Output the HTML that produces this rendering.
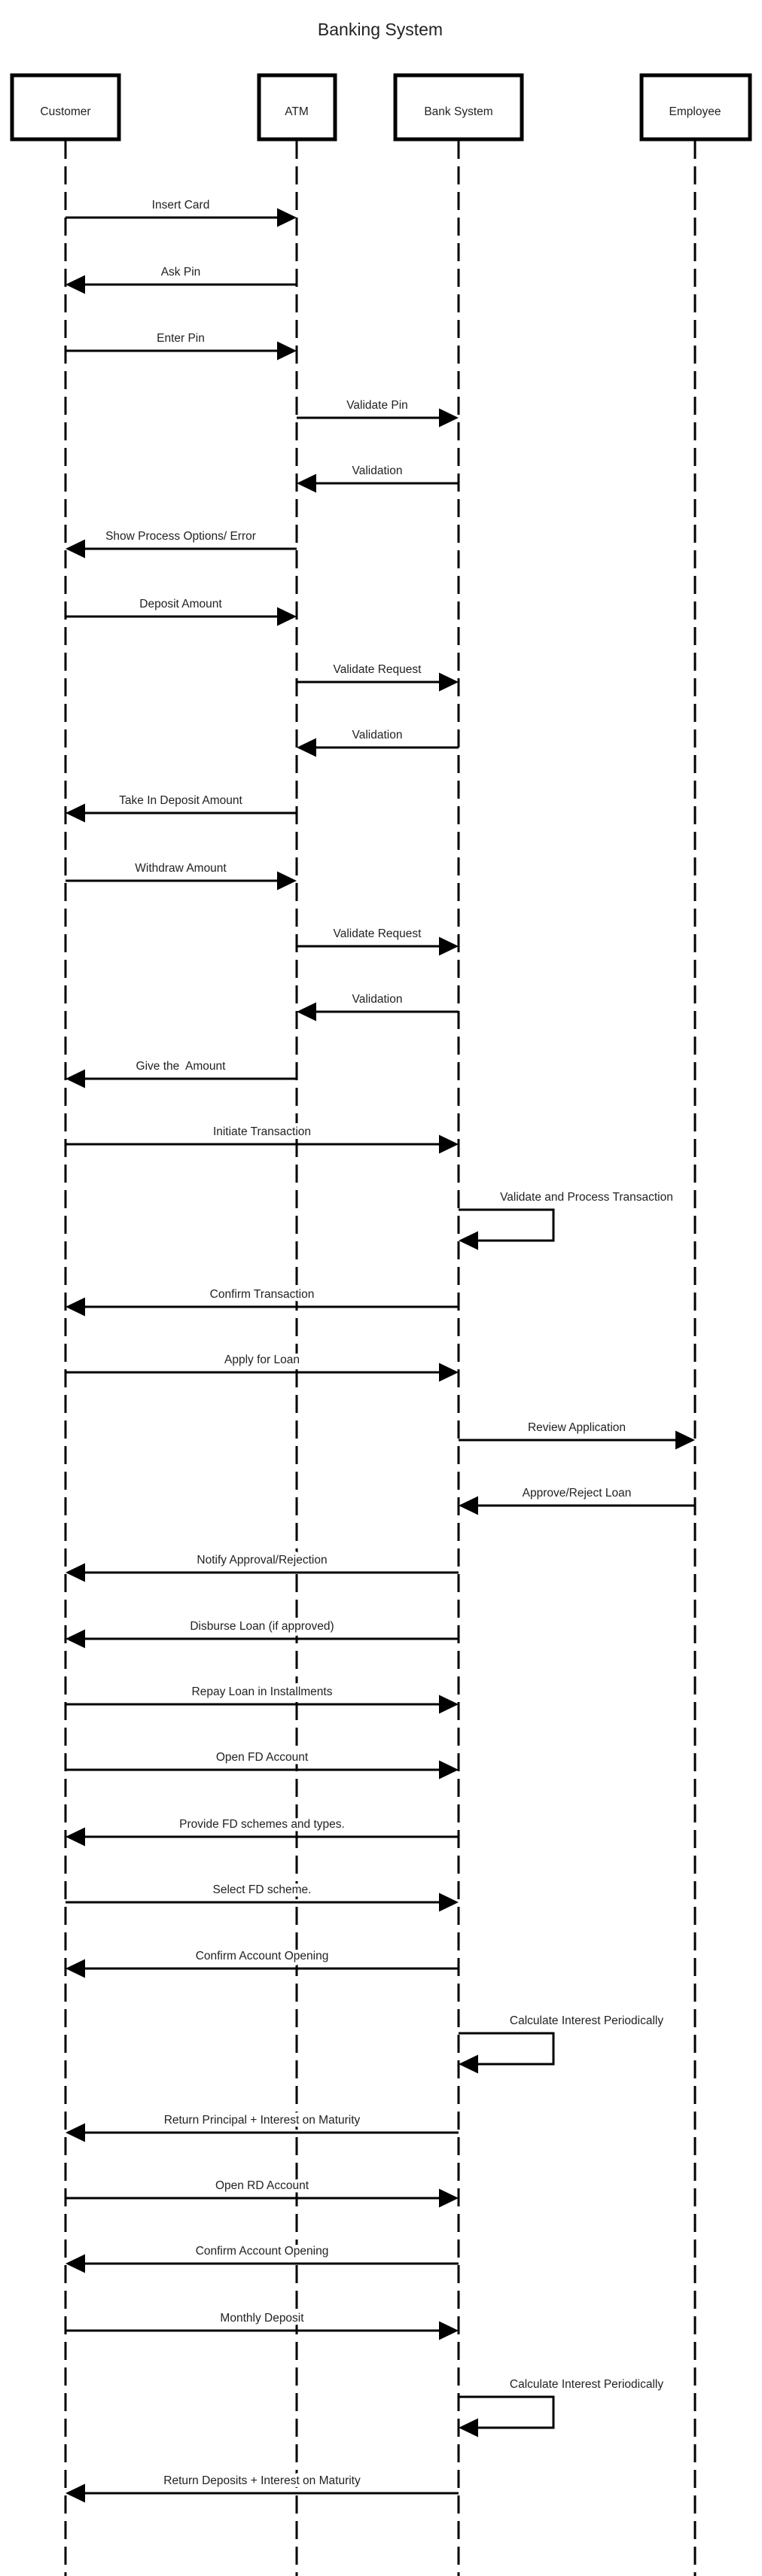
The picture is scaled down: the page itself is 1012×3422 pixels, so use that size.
<!DOCTYPE html>
<html><head><meta charset="utf-8"><style>
html,body{margin:0;padding:0;background:#fff}
svg{display:block}
text{font-family:"Liberation Sans",sans-serif;font-size:15.5px;fill:#222}
.lbl text{stroke:#fff;stroke-width:9px;paint-order:stroke;stroke-linejoin:round}
</style></head><body>
<svg width="1012" height="3422" viewBox="0 0 1012 3422" xmlns="http://www.w3.org/2000/svg">
<text x="505" y="47" text-anchor="middle" style="font-size:23px">Banking System</text>
<g stroke="#000" stroke-width="3" stroke-dasharray="24 10" fill="none">
<line x1="87" y1="187" x2="87" y2="3422"/>
<line x1="394" y1="187" x2="394" y2="3422"/>
<line x1="609" y1="187" x2="609" y2="3422"/>
<line x1="923" y1="187" x2="923" y2="3422"/>
</g>
<g stroke="#000" stroke-width="5" fill="#fff">
<rect x="16" y="100" width="142" height="85"/>
<rect x="344" y="100" width="101" height="85"/>
<rect x="525" y="100" width="168" height="85"/>
<rect x="852" y="100" width="144" height="85"/>
</g>
<g text-anchor="middle">
<text x="87" y="153">Customer</text>
<text x="394" y="153">ATM</text>
<text x="609" y="153">Bank System</text>
<text x="923" y="153">Employee</text>
</g>
<g class="lbl" text-anchor="middle">
<text x="240" y="277">Insert Card</text>
<text x="240" y="366">Ask Pin</text>
<text x="240" y="454">Enter Pin</text>
<text x="501" y="543">Validate Pin</text>
<text x="501" y="630">Validation</text>
<text x="240" y="717">Show Process Options/ Error</text>
<text x="240" y="807">Deposit Amount</text>
<text x="501" y="894">Validate Request</text>
<text x="501" y="981">Validation</text>
<text x="240" y="1068">Take In Deposit Amount</text>
<text x="240" y="1158">Withdraw Amount</text>
<text x="501" y="1245">Validate Request</text>
<text x="501" y="1332">Validation</text>
<text x="240" y="1421" xml:space="preserve">Give the  Amount</text>
<text x="348" y="1508">Initiate Transaction</text>
<text x="779" y="1595">Validate and Process Transaction</text>
<text x="348" y="1724">Confirm Transaction</text>
<text x="348" y="1811">Apply for Loan</text>
<text x="766" y="1901">Review Application</text>
<text x="766" y="1988">Approve/Reject Loan</text>
<text x="348" y="2077">Notify Approval/Rejection</text>
<text x="348" y="2165">Disburse Loan (if approved)</text>
<text x="348" y="2252">Repay Loan in Installments</text>
<text x="348" y="2339">Open FD Account</text>
<text x="348" y="2428">Provide FD schemes and types.</text>
<text x="348" y="2515">Select FD scheme.</text>
<text x="348" y="2603">Confirm Account Opening</text>
<text x="779" y="2689">Calculate Interest Periodically</text>
<text x="348" y="2821">Return Principal + Interest on Maturity</text>
<text x="348" y="2908">Open RD Account</text>
<text x="348" y="2995">Confirm Account Opening</text>
<text x="348" y="3084">Monthly Deposit</text>
<text x="779" y="3172">Calculate Interest Periodically</text>
<text x="348" y="3300">Return Deposits + Interest on Maturity</text>
</g>
<g stroke="#000" stroke-width="3" fill="none">
<line x1="87" y1="289" x2="372" y2="289"/>
<line x1="394" y1="378" x2="109" y2="378"/>
<line x1="87" y1="466" x2="372" y2="466"/>
<line x1="394" y1="555" x2="587" y2="555"/>
<line x1="609" y1="642" x2="416" y2="642"/>
<line x1="394" y1="729" x2="109" y2="729"/>
<line x1="87" y1="819" x2="372" y2="819"/>
<line x1="394" y1="906" x2="587" y2="906"/>
<line x1="609" y1="993" x2="416" y2="993"/>
<line x1="394" y1="1080" x2="109" y2="1080"/>
<line x1="87" y1="1170" x2="372" y2="1170"/>
<line x1="394" y1="1257" x2="587" y2="1257"/>
<line x1="609" y1="1344" x2="416" y2="1344"/>
<line x1="394" y1="1433" x2="109" y2="1433"/>
<line x1="87" y1="1520" x2="587" y2="1520"/>
<polyline points="609,1607 735,1607 735,1648 631,1648"/>
<line x1="609" y1="1736" x2="109" y2="1736"/>
<line x1="87" y1="1823" x2="587" y2="1823"/>
<line x1="609" y1="1913" x2="901" y2="1913"/>
<line x1="923" y1="2000" x2="631" y2="2000"/>
<line x1="609" y1="2089" x2="109" y2="2089"/>
<line x1="609" y1="2177" x2="109" y2="2177"/>
<line x1="87" y1="2264" x2="587" y2="2264"/>
<line x1="87" y1="2351" x2="587" y2="2351"/>
<line x1="609" y1="2440" x2="109" y2="2440"/>
<line x1="87" y1="2527" x2="587" y2="2527"/>
<line x1="609" y1="2615" x2="109" y2="2615"/>
<polyline points="609,2701 735,2701 735,2742 631,2742"/>
<line x1="609" y1="2833" x2="109" y2="2833"/>
<line x1="87" y1="2920" x2="587" y2="2920"/>
<line x1="609" y1="3007" x2="109" y2="3007"/>
<line x1="87" y1="3096" x2="587" y2="3096"/>
<polyline points="609,3184 735,3184 735,3225 631,3225"/>
<line x1="609" y1="3312" x2="109" y2="3312"/>
</g>
<g fill="#000">
<polygon points="394,289 368,276.5 368,301.5"/>
<polygon points="87,378 113,365.5 113,390.5"/>
<polygon points="394,466 368,453.5 368,478.5"/>
<polygon points="609,555 583,542.5 583,567.5"/>
<polygon points="394,642 420,629.5 420,654.5"/>
<polygon points="87,729 113,716.5 113,741.5"/>
<polygon points="394,819 368,806.5 368,831.5"/>
<polygon points="609,906 583,893.5 583,918.5"/>
<polygon points="394,993 420,980.5 420,1005.5"/>
<polygon points="87,1080 113,1067.5 113,1092.5"/>
<polygon points="394,1170 368,1157.5 368,1182.5"/>
<polygon points="609,1257 583,1244.5 583,1269.5"/>
<polygon points="394,1344 420,1331.5 420,1356.5"/>
<polygon points="87,1433 113,1420.5 113,1445.5"/>
<polygon points="609,1520 583,1507.5 583,1532.5"/>
<polygon points="609,1648 635,1635.5 635,1660.5"/>
<polygon points="87,1736 113,1723.5 113,1748.5"/>
<polygon points="609,1823 583,1810.5 583,1835.5"/>
<polygon points="923,1913 897,1900.5 897,1925.5"/>
<polygon points="609,2000 635,1987.5 635,2012.5"/>
<polygon points="87,2089 113,2076.5 113,2101.5"/>
<polygon points="87,2177 113,2164.5 113,2189.5"/>
<polygon points="609,2264 583,2251.5 583,2276.5"/>
<polygon points="609,2351 583,2338.5 583,2363.5"/>
<polygon points="87,2440 113,2427.5 113,2452.5"/>
<polygon points="609,2527 583,2514.5 583,2539.5"/>
<polygon points="87,2615 113,2602.5 113,2627.5"/>
<polygon points="609,2742 635,2729.5 635,2754.5"/>
<polygon points="87,2833 113,2820.5 113,2845.5"/>
<polygon points="609,2920 583,2907.5 583,2932.5"/>
<polygon points="87,3007 113,2994.5 113,3019.5"/>
<polygon points="609,3096 583,3083.5 583,3108.5"/>
<polygon points="609,3225 635,3212.5 635,3237.5"/>
<polygon points="87,3312 113,3299.5 113,3324.5"/>
</g>
</svg>
</body></html>
